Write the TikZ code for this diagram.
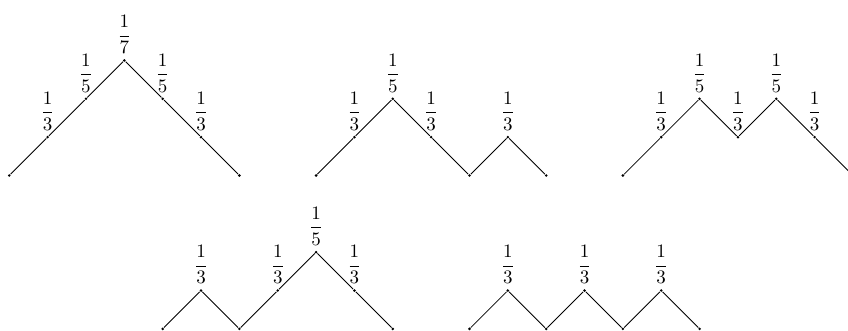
\documentclass[tikz,border=0pt]{standalone}
\begin{document}
\begin{tikzpicture}[x=20.18pt,y=20.18pt,
  dot/.style={circle,fill=black,inner sep=0pt,minimum size=1.5pt},
  lab/.style={above,inner sep=3.33pt},
  seg/.style={draw=black,line width=0.45pt}]
\useasboundingbox (-0.2425,-4.055) rectangle (21.87,4.576);
\clip (-0.2425,-4.055) rectangle (21.87,4.576);
\newcommand\dyckpath[4]{%
  \foreach \h [count=\i from 0] in {#4} {\node[dot] (#1\i) at ({#2+\i},{#3+\h}) {};}
  \foreach \i [evaluate=\i as \j using int(\i+1)] in {0,...,5} {\draw[seg] (#1\i) -- (#1\j);}
}
% row 1
\dyckpath{A}{0}{0}{0,1,2,3,2,1,0}
\dyckpath{B}{8}{0}{0,1,2,1,0,1,0}
\dyckpath{C}{16}{0}{0,1,2,1,2,1,0}
% row 2
\dyckpath{D}{4}{-4}{0,1,0,1,2,1,0}
\dyckpath{E}{12}{-4}{0,1,0,1,0,1,0}
% labels
\node[lab] (A1l) at (A1) {$\displaystyle\frac{1}{3}$};
\node[lab] (A2l) at (A2) {$\displaystyle\frac{1}{5}$};
\node[lab] (A3l) at (A3) {$\displaystyle\frac{1}{7}$};
\node[lab] (A4l) at (A4) {$\displaystyle\frac{1}{5}$};
\node[lab] (A5l) at (A5) {$\displaystyle\frac{1}{3}$};
\node[lab] (B1l) at (B1) {$\displaystyle\frac{1}{3}$};
\node[lab] (B2l) at (B2) {$\displaystyle\frac{1}{5}$};
\node[lab] (B3l) at (B3) {$\displaystyle\frac{1}{3}$};
\node[lab] (B5l) at (B5) {$\displaystyle\frac{1}{3}$};
\node[lab] (C1l) at (C1) {$\displaystyle\frac{1}{3}$};
\node[lab] (C2l) at (C2) {$\displaystyle\frac{1}{5}$};
\node[lab] (C3l) at (C3) {$\displaystyle\frac{1}{3}$};
\node[lab] (C4l) at (C4) {$\displaystyle\frac{1}{5}$};
\node[lab] (C5l) at (C5) {$\displaystyle\frac{1}{3}$};
\node[lab] (D1l) at (D1) {$\displaystyle\frac{1}{3}$};
\node[lab] (D3l) at (D3) {$\displaystyle\frac{1}{3}$};
\node[lab] (D4l) at (D4) {$\displaystyle\frac{1}{5}$};
\node[lab] (D5l) at (D5) {$\displaystyle\frac{1}{3}$};
\node[lab] (E1l) at (E1) {$\displaystyle\frac{1}{3}$};
\node[lab] (E3l) at (E3) {$\displaystyle\frac{1}{3}$};
\node[lab] (E5l) at (E5) {$\displaystyle\frac{1}{3}$};
\end{tikzpicture}
\end{document}
